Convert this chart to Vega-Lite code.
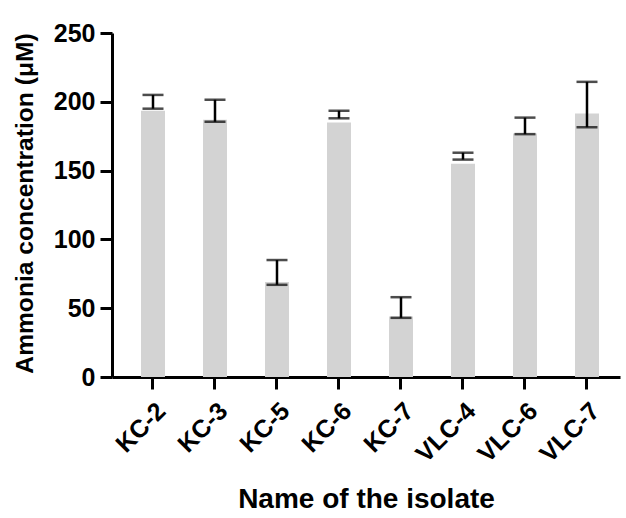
{
  "$schema": "https://vega.github.io/schema/vega-lite/v6.json",
  "width": 508,
  "height": 344,
  "autosize": {"type": "none"},
  "padding": {"left": 112, "top": 33, "right": 6, "bottom": 141},
  "background": "white",
  "config": {
    "view": {"stroke": null},
    "font": "Liberation Sans",
    "axis": {
      "domainColor": "black",
      "domainWidth": 3,
      "tickColor": "black",
      "tickWidth": 3,
      "tickSize": 12,
      "grid": false,
      "labelFont": "Liberation Sans",
      "labelFontWeight": "bold",
      "labelFontSize": 25,
      "labelColor": "black",
      "titleFont": "Liberation Sans",
      "titleFontWeight": "bold",
      "titleFontSize": 28,
      "titleColor": "black"
    }
  },
  "data": {
    "values": [
      {"isolate": "KC-2", "value": 193.5, "low": 195, "high": 205},
      {"isolate": "KC-3", "value": 187, "low": 185.5, "high": 201.5},
      {"isolate": "KC-5", "value": 69, "low": 67, "high": 85},
      {"isolate": "KC-6", "value": 185, "low": 188, "high": 193.5},
      {"isolate": "KC-7", "value": 44, "low": 43, "high": 58},
      {"isolate": "VLC-4", "value": 155, "low": 158, "high": 163},
      {"isolate": "VLC-6", "value": 177, "low": 176.5, "high": 188.5},
      {"isolate": "VLC-7", "value": 191.5, "low": 181.5, "high": 214.5}
    ]
  },
  "encoding": {
    "x": {
      "field": "isolate",
      "type": "nominal",
      "sort": null,
      "scale": {"paddingInner": 0, "paddingOuter": 0.0968, "align": 0.833},
      "axis": {
        "title": "Name of the isolate",
        "labelAngle": -45,
        "labelPadding": 9,
        "titleY": 130,
        "titleBaseline": "alphabetic"
      }
    }
  },
  "layer": [
    {
      "mark": {"type": "bar", "width": 24, "color": "#d3d3d3"},
      "encoding": {
        "y": {
          "field": "value",
          "type": "quantitative",
          "scale": {"domain": [0, 250], "nice": false},
          "axis": {
            "title": "Ammonia concentration (μM)",
            "titleFontSize": 24.6,
            "values": [0, 50, 100, 150, 200, 250],
            "labelPadding": 5,
            "titleX": -80,
            "titleY": 170,
            "titleBaseline": "alphabetic"
          }
        }
      }
    },
    {
      "mark": {"type": "rule", "color": "black", "strokeWidth": 2.5},
      "encoding": {
        "y": {"field": "low", "type": "quantitative"},
        "y2": {"field": "high"}
      }
    },
    {
      "mark": {"type": "tick", "color": "black", "size": 21, "thickness": 2.5, "orient": "horizontal"},
      "encoding": {"y": {"field": "high", "type": "quantitative"}}
    },
    {
      "mark": {"type": "tick", "color": "black", "size": 21, "thickness": 2.5, "orient": "horizontal"},
      "encoding": {"y": {"field": "low", "type": "quantitative"}}
    }
  ]
}
